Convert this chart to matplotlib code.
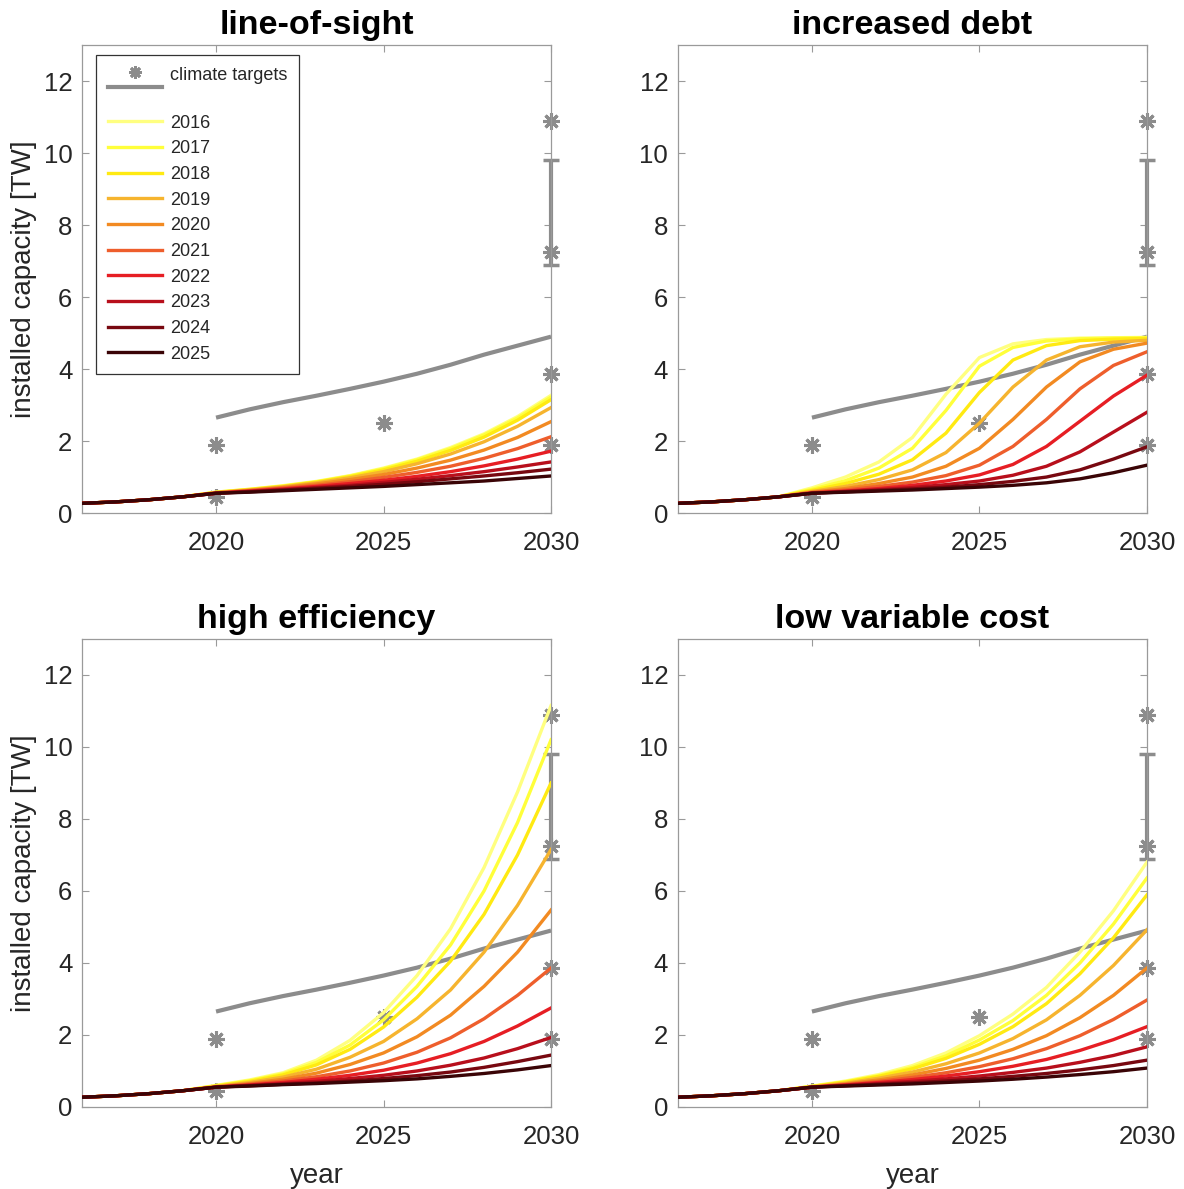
import matplotlib
matplotlib.use('Agg')
import matplotlib.pyplot as plt
from matplotlib.lines import Line2D
from matplotlib.legend_handler import HandlerBase

plt.rcParams['font.family'] = ['Liberation Sans', 'DejaVu Sans']

# ---------------- data ----------------
years = list(range(2016, 2031))
scenario_labels = ['2016', '2017', '2018', '2019', '2020',
                   '2021', '2022', '2023', '2024', '2025']
history = [0.27, 0.31, 0.37, 0.45]          # 2016-2019, common to all runs

# values 2020..2030 for each scenario start year (2016..2025)
line_of_sight = [
    [0.58, 0.66, 0.76, 0.88, 1.04, 1.25, 1.50, 1.82, 2.20, 2.68, 3.27],
    [0.58, 0.66, 0.75, 0.87, 1.03, 1.23, 1.48, 1.79, 2.17, 2.64, 3.22],
    [0.57, 0.65, 0.74, 0.86, 1.01, 1.20, 1.44, 1.74, 2.11, 2.58, 3.15],
    [0.57, 0.64, 0.73, 0.84, 0.98, 1.15, 1.37, 1.64, 1.98, 2.41, 2.93],
    [0.56, 0.63, 0.71, 0.81, 0.93, 1.07, 1.25, 1.47, 1.75, 2.10, 2.54],
    [0.56, 0.62, 0.69, 0.77, 0.87, 0.99, 1.13, 1.30, 1.52, 1.79, 2.12],
    [0.55, 0.61, 0.67, 0.74, 0.82, 0.91, 1.02, 1.15, 1.31, 1.50, 1.72],
    [0.55, 0.60, 0.65, 0.71, 0.77, 0.85, 0.94, 1.04, 1.15, 1.28, 1.42],
    [0.55, 0.59, 0.64, 0.69, 0.74, 0.80, 0.87, 0.95, 1.03, 1.12, 1.22],
    [0.55, 0.58, 0.62, 0.66, 0.70, 0.74, 0.79, 0.84, 0.89, 0.96, 1.03],
]
increased_debt = [
    [0.70, 1.00, 1.42, 2.10, 3.30, 4.32, 4.70, 4.82, 4.86, 4.87, 4.88],
    [0.66, 0.90, 1.25, 1.80, 2.85, 4.08, 4.60, 4.78, 4.84, 4.86, 4.87],
    [0.63, 0.82, 1.08, 1.48, 2.22, 3.35, 4.25, 4.65, 4.79, 4.83, 4.85],
    [0.60, 0.74, 0.93, 1.20, 1.68, 2.50, 3.50, 4.25, 4.62, 4.75, 4.80],
    [0.58, 0.68, 0.82, 1.00, 1.30, 1.80, 2.60, 3.50, 4.20, 4.55, 4.72],
    [0.57, 0.64, 0.74, 0.86, 1.04, 1.33, 1.85, 2.60, 3.45, 4.10, 4.48],
    [0.56, 0.61, 0.68, 0.77, 0.89, 1.06, 1.35, 1.85, 2.55, 3.25, 3.83],
    [0.55, 0.60, 0.65, 0.71, 0.79, 0.89, 1.05, 1.30, 1.70, 2.25, 2.80],
    [0.55, 0.59, 0.63, 0.67, 0.72, 0.79, 0.88, 1.00, 1.20, 1.50, 1.84],
    [0.55, 0.58, 0.61, 0.64, 0.68, 0.72, 0.77, 0.84, 0.95, 1.12, 1.33],
]
high_efficiency = [
    [0.60, 0.75, 0.95, 1.30, 1.85, 2.62, 3.65, 4.95, 6.65, 8.75, 11.15],
    [0.59, 0.73, 0.92, 1.24, 1.72, 2.42, 3.35, 4.50, 6.00, 7.90, 10.20],
    [0.58, 0.71, 0.89, 1.17, 1.60, 2.22, 3.05, 4.05, 5.35, 7.00, 9.00],
    [0.57, 0.68, 0.83, 1.05, 1.38, 1.82, 2.45, 3.25, 4.30, 5.60, 7.15],
    [0.56, 0.65, 0.77, 0.94, 1.18, 1.50, 1.95, 2.55, 3.35, 4.30, 5.47],
    [0.55, 0.63, 0.72, 0.84, 1.00, 1.22, 1.52, 1.92, 2.45, 3.10, 3.86],
    [0.55, 0.61, 0.68, 0.77, 0.88, 1.02, 1.22, 1.48, 1.82, 2.25, 2.75],
    [0.55, 0.60, 0.65, 0.71, 0.79, 0.88, 1.00, 1.16, 1.36, 1.62, 1.93],
    [0.55, 0.59, 0.63, 0.67, 0.72, 0.79, 0.87, 0.97, 1.10, 1.26, 1.44],
    [0.55, 0.58, 0.62, 0.65, 0.69, 0.73, 0.78, 0.85, 0.93, 1.03, 1.15],
]
low_variable_cost = [
    [0.58, 0.72, 0.90, 1.15, 1.50, 1.98, 2.58, 3.32, 4.30, 5.45, 6.80],
    [0.57, 0.70, 0.87, 1.10, 1.42, 1.86, 2.40, 3.10, 4.00, 5.08, 6.36],
    [0.57, 0.69, 0.85, 1.06, 1.35, 1.74, 2.23, 2.87, 3.70, 4.70, 5.89],
    [0.56, 0.66, 0.80, 0.97, 1.20, 1.50, 1.90, 2.42, 3.10, 3.93, 4.92],
    [0.55, 0.64, 0.75, 0.89, 1.07, 1.30, 1.60, 1.98, 2.48, 3.10, 3.86],
    [0.55, 0.62, 0.71, 0.82, 0.95, 1.12, 1.34, 1.62, 1.98, 2.43, 2.97],
    [0.55, 0.61, 0.68, 0.76, 0.86, 0.98, 1.13, 1.32, 1.57, 1.87, 2.23],
    [0.55, 0.60, 0.65, 0.71, 0.78, 0.86, 0.96, 1.08, 1.24, 1.43, 1.67],
    [0.55, 0.59, 0.63, 0.67, 0.72, 0.78, 0.85, 0.93, 1.03, 1.15, 1.30],
    [0.55, 0.58, 0.61, 0.64, 0.68, 0.72, 0.77, 0.83, 0.90, 0.98, 1.08],
]

target_path_years = list(range(2020, 2031))
target_path = [2.65, 2.88, 3.08, 3.26, 3.45, 3.65, 3.87, 4.12, 4.40, 4.65, 4.90]
target_x = [2020, 2020, 2025, 2030, 2030, 2030, 2030]
target_y = [1.9, 0.45, 2.5, 10.9, 7.25, 3.85, 1.9]
target_range = [6.9, 9.8]

titles = ['line-of-sight', 'increased debt', 'high efficiency', 'low variable cost']
panels = [line_of_sight, increased_debt, high_efficiency, low_variable_cost]

colors = ['#FFFF80', '#FFFF3A', '#FFEA12', '#F6B42E', '#F28A22',
          '#EE5E2C', '#E61E24', '#B80F1C', '#780810', '#3A0406']
GRAY = '#8C8C8C'
TXT = '#262626'
SPINE = '#9A9A9A'

# ---------------- layout ----------------
fig = plt.figure(figsize=(11.84, 11.89), dpi=100)
W, H = 0.3961, 0.3936
positions = [[0.0693, 0.5685, W, H], [0.5726, 0.5685, W, H],
             [0.0693, 0.0690, W, H], [0.5726, 0.0690, W, H]]


class TargetHandler(HandlerBase):
    def create_artists(self, legend, orig_handle, xdescent, ydescent,
                       width, height, fontsize, trans):
        y_star = -ydescent + height * 0.6
        y_line = -ydescent - height * 0.55
        ln = Line2D([-xdescent, -xdescent + width], [y_line, y_line],
                    color=GRAY, lw=3, transform=trans)
        st = Line2D([-xdescent + width / 2], [y_star], marker=(8, 2, 0),
                    ms=9, mew=2, color=GRAY, ls='none', transform=trans)
        return [ln, st]


for i, (pos, title, data) in enumerate(zip(positions, titles, panels)):
    ax = fig.add_axes(pos)
    # climate targets
    ax.plot(target_path_years, target_path, color=GRAY, lw=3, zorder=2,
            solid_capstyle='butt')
    mid = (target_range[0] + target_range[1]) / 2
    half = (target_range[1] - target_range[0]) / 2
    eb = ax.errorbar([2030], [mid], yerr=[[half], [half]], fmt='none',
                     ecolor=GRAY, elinewidth=3, capsize=5.5, capthick=2.5,
                     zorder=2)
    for child in eb.get_children():
        child.set_clip_on(False)
    ax.plot(target_x, target_y, ls='none', marker=(8, 2, 0), ms=12, mew=2.2,
            color=GRAY, zorder=2.5, clip_on=False)
    handles = []
    for vals, c, lab in zip(data, colors, scenario_labels):
        h, = ax.plot(years, history + vals, color=c, lw=2.4, zorder=3,
                     label=lab)
        handles.append(h)

    ax.set_xlim(2016, 2030)
    ax.set_ylim(0, 13)
    ax.set_xticks([2020, 2025, 2030])
    ax.set_yticks(range(0, 13, 2))
    ax.tick_params(axis='both', which='both', direction='in', top=True,
                   right=True, length=5, width=0.8, color=SPINE,
                   labelsize=18.5, labelcolor=TXT)
    ax.tick_params(axis='x', pad=13)
    ax.tick_params(axis='y', pad=7)
    for s in ax.spines.values():
        s.set_color(SPINE)
        s.set_linewidth(0.9)
    ax.set_title(title, fontsize=24.5, fontweight='bold', color='black', pad=8)
    if i % 2 == 0:
        ax.set_ylabel('installed capacity [TW]', fontsize=20, color=TXT,
                      labelpad=5)
    if i >= 2:
        ax.set_xlabel('year', fontsize=20, color=TXT, labelpad=10)

    if i == 0:
        tgt = Line2D([], [], color=GRAY)
        blank = Line2D([], [], color='none')
        leg = ax.legend([tgt, blank] + handles,
                        ['climate targets', ' '] + scenario_labels,
                        handler_map={tgt: TargetHandler()},
                        loc='upper left', bbox_to_anchor=(0.03, 0.979),
                        borderaxespad=0, fontsize=13, handlelength=3.0,
                        handletextpad=0.45, labelspacing=0.48,
                        borderpad=0.65, fancybox=False, framealpha=1,
                        edgecolor='#333333')
        leg.get_frame().set_linewidth(0.9)
        leg.get_texts()[1].set_fontsize(2)
        for t in leg.get_texts():
            t.set_color(TXT)

fig.savefig('out.png', dpi=100)
